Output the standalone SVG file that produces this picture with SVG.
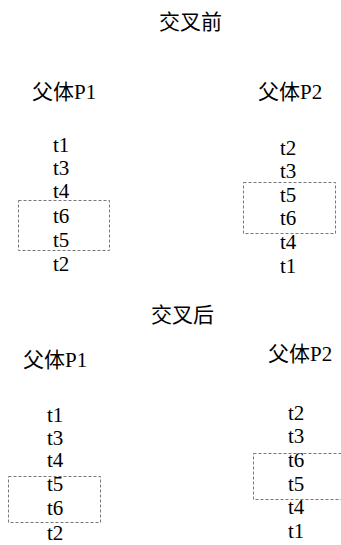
<svg xmlns="http://www.w3.org/2000/svg" width="341" height="545" viewBox="0 0 341 545">
<style>
text{font-family:"Liberation Serif","Noto Sans CJK SC",serif;fill:#000}
.h{font-size:21px}
.t{font-size:21px}
.box{fill:none;stroke:#777;stroke-width:1;stroke-dasharray:3 2}
</style>
<rect width="341" height="545" fill="#fff"/>
<g id="title-before"><text class="h" x="159" y="29">交叉前</text></g>
<g id="p1-before">
<text class="h" x="32" y="99">父体P1</text>
<text class="t" x="53" y="152">t1</text>
<text class="t" x="53" y="175">t3</text>
<text class="t" x="53" y="198">t4</text>
<text class="t" x="53" y="223">t6</text>
<text class="t" x="53" y="247">t5</text>
<text class="t" x="53" y="271">t2</text>
<rect class="box" x="18.5" y="200.5" width="91" height="50"/>
</g>
<g id="p2-before">
<text class="h" x="258" y="99">父体P2</text>
<text class="t" x="280" y="155">t2</text>
<text class="t" x="280" y="178">t3</text>
<text class="t" x="280" y="202">t5</text>
<text class="t" x="280" y="225">t6</text>
<text class="t" x="280" y="249">t4</text>
<text class="t" x="280" y="273">t1</text>
<rect class="box" x="243.5" y="182.5" width="92" height="51"/>
</g>
<g id="title-after"><text class="h" x="151" y="322">交叉后</text></g>
<g id="p1-after">
<text class="h" x="23" y="367">父体P1</text>
<text class="t" x="47" y="422">t1</text>
<text class="t" x="47" y="445">t3</text>
<text class="t" x="47" y="467">t4</text>
<text class="t" x="47" y="491">t5</text>
<text class="t" x="47" y="515">t6</text>
<text class="t" x="47" y="540">t2</text>
<rect class="box" x="8.5" y="476.5" width="92" height="46"/>
</g>
<g id="p2-after">
<text class="h" x="268" y="361">父体P2</text>
<text class="t" x="288" y="420">t2</text>
<text class="t" x="288" y="443">t3</text>
<text class="t" x="288" y="467">t6</text>
<text class="t" x="288" y="491">t5</text>
<text class="t" x="288" y="514">t4</text>
<text class="t" x="288" y="538">t1</text>
<rect class="box" x="253.5" y="453.5" width="92" height="46"/>
</g>
<g id="connectors"></g>
</svg>
